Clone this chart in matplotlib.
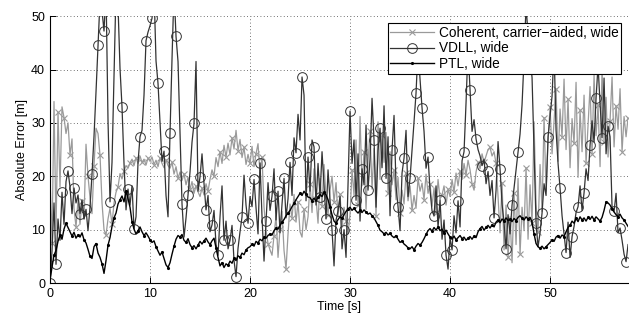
import numpy as np
import matplotlib
matplotlib.use("Agg")
import matplotlib.pyplot as plt

plt.rcParams["font.family"] = ["Liberation Sans", "DejaVu Sans"]

# sample spacing of the traces [s]
dt = 0.2

# Coherent, carrier-aided, wide  (light gray, x markers)
coherent = [
    20.0, 7.5, 34.0, 10.0, 32.0, 18.0, 33.0, 31.0, 28.0, 30.0,
    24.0, 27.0, 14.0, 10.5, 15.5, 11.0, 15.3, 12.0, 26.0, 20.0,
    16.0, 13.0, 22.0, 29.0, 28.0, 24.0, 15.0, 10.0, 9.0, 12.0,
    14.0, 11.0, 15.0, 17.0, 18.0, 20.5, 19.5, 21.0, 22.0, 21.5,
    22.5, 23.2, 22.0, 23.5, 22.4, 23.8, 22.6, 23.2, 22.1, 23.4,
    22.8, 23.6, 22.2, 23.0, 21.8, 23.5, 22.4, 21.6, 23.1, 22.0,
    21.5, 22.6, 20.4, 21.8, 19.6, 20.8, 19.2, 20.5, 18.4, 19.8,
    17.6, 19.0, 16.8, 18.2, 17.1, 16.2, 17.8, 16.5, 18.6, 17.2,
    19.4, 21.2, 20.0, 23.5, 21.8, 24.6, 22.4, 25.8, 23.6, 26.2,
    24.0, 27.2, 25.1, 28.6, 24.8, 26.9, 23.5, 25.4, 22.2, 24.1,
    22.4, 25.6, 21.8, 24.2, 26.1, 20.5, 23.6, 14.2, 9.8, 7.4,
    6.2, 5.2, 8.8, 12.6, 4.8, 10.2, 13.4, 6.1, 2.6, 9.2,
    14.8, 12.2, 16.6, 11.4, 15.2, 9.6, 8.6, 13.8, 10.0, 12.4,
    18.6, 13.2, 21.4, 15.8, 11.2, 19.6, 14.4, 22.2, 16.0, 12.8,
    17.4, 20.0, 15.2, 18.8, 12.4, 16.6, 10.4, 14.2, 11.6, 9.2,
    12.8, 21.2, 16.4, 26.8, 14.6, 31.2, 18.2, 24.6, 13.8, 22.8,
    28.4, 17.6, 25.2, 12.6, 30.2, 19.4, 27.8, 22.6, 28.2, 16.8,
    24.6, 18.4, 21.2, 15.6, 19.8, 13.2, 17.4, 14.8, 20.6, 15.4,
    18.2, 13.6, 16.4, 14.0, 19.6, 17.2, 18.7, 15.6, 20.4, 16.8,
    18.6, 14.4, 17.8, 13.2, 19.4, 15.8, 16.5, 18.2, 14.6, 17.6,
    16.2, 19.4, 17.0, 20.6, 18.2, 21.0, 19.4, 22.4, 20.2, 23.0,
    21.2, 18.6, 17.4, 20.8, 22.6, 21.4, 24.2, 22.6, 23.8, 25.0,
    25.4, 23.8, 24.6, 22.4, 16.2, 9.4, 18.8, 6.2, 14.6, 4.8,
    12.4, 3.8, 16.8, 7.2, 19.6, 5.4, 14.2, 9.8, 21.6, 8.2,
    18.4, 11.2, 30.2, 14.8, 9.6, 22.2, 13.4, 31.0, 17.2, 26.6,
    33.0, 24.2, 30.2, 36.4, 22.8, 32.6, 27.4, 38.2, 25.0, 34.4,
    21.6, 30.8, 26.2, 37.6, 19.8, 32.4, 24.6, 35.2, 22.4, 29.6,
    36.8, 24.2, 39.0, 27.6, 33.4, 21.8, 40.2, 26.4, 34.8, 23.6,
    30.4, 38.6, 25.5, 33.2, 28.8, 36.4, 24.6, 31.2, 27.4, 31.0,
]

# VDLL, wide  (dark gray, circles)
vdll = [
    0.0, 6.0, 15.0, 3.5, 12.0, 8.0, 17.0, 11.0, 19.0, 21.0,
    18.0, 13.0, 17.8, 15.0, 16.5, 13.0, 15.6, 12.0, 13.8, 9.8,
    14.2, 20.4, 27.5, 35.8, 44.6, 53.0, 51.0, 47.2, 55.0, 30.4,
    15.2, 22.6, 38.4, 55.0, 52.0, 40.2, 33.0, 22.4, 13.7, 17.6,
    14.6, 18.2, 10.2, 12.4, 22.6, 27.4, 28.6, 35.2, 45.4, 47.0,
    48.2, 49.6, 55.0, 41.6, 37.4, 30.2, 22.8, 24.7, 16.4, 12.4,
    28.1, 42.0, 55.0, 46.2, 41.5, 28.4, 14.8, 8.6, 12.2, 16.5,
    20.8, 26.4, 29.9, 41.5, 17.2, 19.9, 24.2, 18.6, 13.7, 16.4,
    9.6, 10.9, 13.6, 7.2, 5.2, 12.4, 18.2, 8.0, 11.6, 6.4,
    8.0, 10.8, 4.2, 1.2, 6.5, 9.6, 12.4, 20.2, 14.6, 11.2,
    16.2, 14.3, 19.4, 14.1, 9.2, 22.5, 12.4, 4.1, 11.6, 18.8,
    13.6, 16.3, 21.4, 11.8, 17.2, 9.4, 14.8, 19.6, 12.2, 15.8,
    22.6, 16.4, 27.2, 24.4, 31.6, 26.8, 38.6, 35.2, 15.4, 23.6,
    17.2, 26.8, 25.5, 14.6, 22.4, 16.2, 24.6, 18.4, 12.0, 21.2,
    15.4, 9.9, 3.2, 11.8, 13.5, 16.2, 6.4, 10.0, 4.8, 18.6,
    32.2, 22.4, 26.8, 15.5, 24.2, 11.6, 21.4, 18.4, 29.6, 17.4,
    23.2, 34.6, 26.8, 14.2, 24.8, 29.0, 21.6, 33.2, 19.6, 27.4,
    12.6, 24.9, 31.4, 18.2, 14.3, 9.8, 20.6, 23.4, 28.6, 16.2,
    19.6, 24.8, 30.2, 35.6, 44.0, 38.2, 32.8, 28.4, 21.5, 23.6,
    17.4, 13.5, 12.6, 18.2, 10.4, 15.6, 8.2, 11.8, 5.2, 2.6,
    8.4, 6.2, 12.6, 9.4, 15.4, 10.5, 22.9, 24.6, 33.8, 44.0,
    36.2, 28.4, 30.6, 27.0, 25.0, 23.8, 22.0, 23.2, 18.6, 20.9,
    16.4, 19.2, 12.2, 17.4, 26.5, 21.4, 14.8, 11.2, 6.4, 12.8,
    9.2, 14.6, 17.8, 21.2, 24.6, 27.9, 33.4, 42.0, 52.0, 46.4,
    42.2, 38.5, 24.6, 11.2, 6.8, 9.4, 13.1, 18.6, 16.4, 27.4,
    31.2, 35.0, 44.0, 28.6, 22.4, 17.8, 12.6, 9.2, 5.7, 11.4,
    4.8, 8.7, 10.6, 13.2, 14.3, 18.2, 13.6, 16.9, 21.4, 19.2,
    25.8, 30.4, 26.4, 34.6, 40.8, 33.6, 27.2, 38.4, 24.2, 29.4,
    27.4, 14.2, 13.4, 16.8, 9.4, 10.3, 8.0, 5.4, 4.0, 7.2,
]

# PTL, wide  (black, dots)
ptl = [
    0.5, 3.0, 5.2, 6.1, 7.8, 9.0, 8.2, 10.1, 11.2, 10.4,
    9.6, 8.8, 9.5, 8.4, 9.0, 8.6, 9.4, 8.1, 7.5, 6.3,
    5.0, 4.6, 6.8, 7.4, 5.6, 4.8, 3.6, 1.8, 4.2, 7.1,
    8.5, 10.6, 12.2, 13.1, 14.8, 15.6, 16.3, 15.2, 17.2, 15.8,
    14.2, 11.5, 10.1, 9.2, 9.8, 10.5, 9.6, 8.9, 9.4, 8.8,
    8.1, 7.6, 7.9, 6.8, 6.0, 5.2, 5.8, 4.6, 3.4, 2.9,
    3.8, 5.4, 6.9, 8.2, 8.9, 8.6, 9.1, 8.0, 7.6, 8.3,
    7.2, 6.6, 7.0, 6.4, 7.1, 7.8, 7.3, 7.9, 8.4, 7.7,
    7.2, 7.9, 8.4, 6.6, 4.8, 3.2, 3.8, 2.9, 3.6, 3.3,
    4.1, 3.7, 4.6, 4.2, 5.1, 4.8, 5.6, 5.3, 6.2, 6.6,
    6.8, 7.3, 6.9, 7.8, 7.5, 8.2, 7.9, 8.6, 8.4, 8.9,
    9.2, 9.0, 9.8, 10.3, 10.1, 10.8, 11.4, 11.9, 12.6, 13.1,
    13.6, 14.3, 14.9, 15.6, 16.2, 16.8, 16.4, 17.2, 16.6, 16.1,
    16.0, 15.4, 15.9, 15.3, 16.1, 16.6, 16.2, 17.0, 16.5, 15.6,
    14.2, 12.8, 11.6, 11.2, 11.9, 12.4, 12.1, 12.8, 13.4, 13.9,
    14.2, 13.6, 14.0, 13.5, 13.1, 13.6, 13.2, 13.7, 13.3, 12.9,
    13.1, 12.6, 12.2, 11.5, 10.8, 9.9, 9.6, 9.2, 9.5, 9.0,
    9.3, 8.8, 8.5, 8.9, 8.2, 7.6, 7.9, 7.3, 7.0, 6.6,
    6.4, 6.8, 6.2, 6.9, 7.4, 7.1, 7.6, 8.3, 9.1, 9.8,
    10.2, 9.7, 10.4, 9.9, 10.5, 9.8, 10.1, 9.4, 9.9, 9.2,
    8.6, 8.2, 8.8, 8.1, 8.5, 8.9, 8.3, 8.6, 8.0, 8.4,
    8.7, 8.2, 8.8, 8.5, 9.6, 10.2, 10.6, 9.9, 10.4, 10.8,
    10.3, 10.9, 10.5, 11.4, 11.8, 11.3, 12.0, 11.6, 12.2, 11.7,
    11.9, 11.5, 12.1, 11.7, 12.3, 12.6, 12.1, 11.8, 12.4, 12.0,
    12.3, 11.4, 9.2, 7.4, 6.8, 6.5, 6.9, 6.4, 6.8, 7.2,
    7.6, 8.1, 7.8, 8.6, 8.9, 8.4, 9.0, 8.7, 9.6, 10.4,
    10.8, 11.6, 11.2, 12.1, 11.5, 12.4, 11.8, 12.2, 11.6, 12.3,
    11.9, 12.5, 11.8, 12.4, 12.0, 11.6, 12.3, 13.6, 15.2, 15.0,
    14.6, 13.9, 13.3, 12.8, 12.4, 12.9, 12.2, 11.8, 11.2, 10.6,
]

labels = ["Coherent, carrier\u2212aided, wide", "VDLL, wide", "PTL, wide"]
xticks = [0, 10, 20, 30, 40, 50]
yticks = [0, 10, 20, 30, 40, 50]


def main() -> None:
    t = np.arange(len(ptl)) * dt

    fig = plt.figure(figsize=(6.29, 3.20), dpi=100)
    ax = fig.add_axes([0.0795, 0.1156, 0.919, 0.834])

    ax.plot(t, coherent, color="#9a9a9a", lw=0.9, marker="x", ms=4.5,
            mew=0.8, markevery=(1, 3), label=labels[0])
    ax.plot(t, vdll, color="#333333", lw=0.9, marker="o", ms=7,
            mfc="none", mew=0.7, markevery=(0, 3), label=labels[1])
    ax.plot(t, ptl, color="black", lw=1.0, marker=".", ms=2.5,
            markevery=(2, 3), label=labels[2])

    ax.set_xlim(0, 57.8)
    ax.set_ylim(0, 50)
    ax.set_xticks(xticks)
    ax.set_yticks(yticks)
    ax.grid(True, color="#444444", linestyle=(0, (1, 3)), linewidth=0.6)
    ax.spines["top"].set_visible(False)
    ax.spines["right"].set_visible(False)
    ax.tick_params(direction="in", length=4, labelsize=9, width=0.7)
    ax.set_xlabel("Time [s]", fontsize=9, labelpad=1)
    ax.set_ylabel("Absolute Error [m]", fontsize=9, labelpad=2)

    leg = ax.legend(loc="upper right", fontsize=9.8, handlelength=3.2,
                    numpoints=1, fancybox=False, framealpha=1,
                    borderaxespad=0.5, borderpad=0.2, labelspacing=0.12,
                    handletextpad=0.35)
    leg.get_frame().set_edgecolor("black")
    leg.get_frame().set_linewidth(0.8)

    fig.savefig("out.png", dpi=100)
    plt.close(fig)


if __name__ == "__main__":
    main()
